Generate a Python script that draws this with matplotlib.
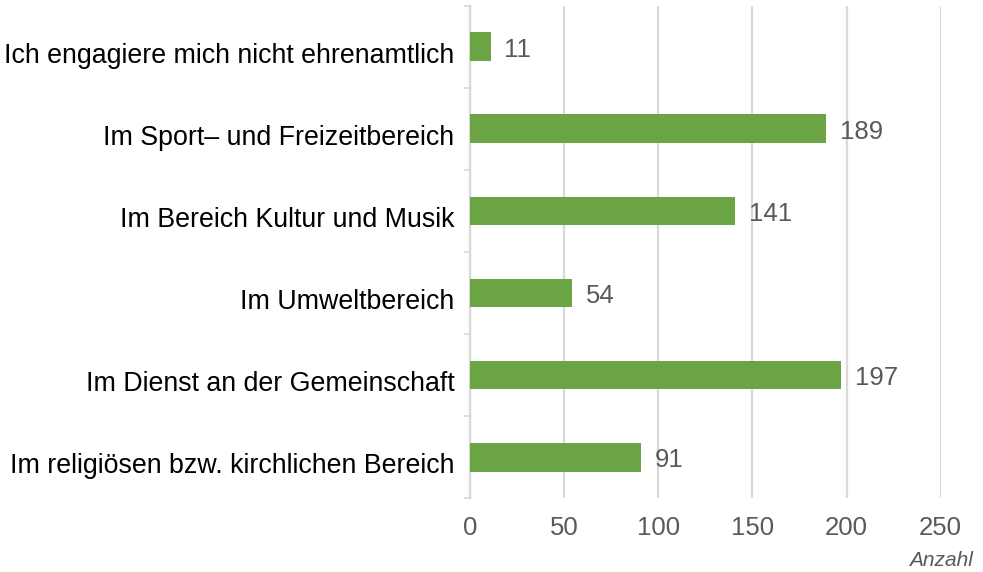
import numpy as np
import matplotlib.pyplot as plt
from matplotlib.transforms import ScaledTranslation

categories = [
    "Ich engagiere mich nicht ehrenamtlich",
    "Im Sport\u2013 und Freizeitbereich",
    "Im Bereich Kultur und Musik",
    "Im Umweltbereich",
    "Im Dienst an der Gemeinschaft",
    "Im religi\u00f6sen bzw. kirchlichen Bereich",
]
values = [11, 189, 141, 54, 197, 91]
x_ticks = [0, 50, 100, 150, 200, 250]


def main():
    plt.rcParams['font.family'] = ['Liberation Sans', 'DejaVu Sans']

    fig = plt.figure(figsize=(9.83, 5.72), dpi=100)
    ax = fig.add_axes([0.478, 0.129, 0.479, 0.861])

    y = np.arange(len(categories))
    ax.barh(y, values, height=0.35, color='#6aa444', zorder=3)
    for yi, v in zip(y, values):
        ax.annotate(str(v), (v, yi), xytext=(10, -2), textcoords='offset points',
                    va='center', ha='left', fontsize=18.5, color='#595959')

    ax.set_ylim(len(categories) - 0.5, -0.5)
    ax.set_xlim(0, 250)
    ax.set_yticks(y)
    ax.set_yticklabels(categories, fontsize=19.3, color='black')
    ax.tick_params(axis='y', length=0, pad=11)
    # labels sit a bit lower than the bar centres in the original
    shift = ScaledTranslation(0, -6 / 100, fig.dpi_scale_trans)
    for lbl in ax.get_yticklabels():
        lbl.set_transform(lbl.get_transform() + shift)
    ax.set_yticks(np.arange(-0.5, len(categories)), minor=True)
    ax.tick_params(axis='y', which='minor', length=4, width=1.2, color='#d9d9d9')

    ax.set_xticks(x_ticks)
    ax.tick_params(axis='x', length=0, labelsize=18.5, labelcolor='#595959', pad=13)
    ax.grid(axis='x', color='#d9d9d9', linewidth=1.6, zorder=0)

    for s in ['top', 'right', 'bottom']:
        ax.spines[s].set_visible(False)
    ax.spines['left'].set_color('#d9d9d9')
    ax.spines['left'].set_linewidth(1.6)

    fig.text(0.99, 0.003, "Anzahl", ha='right', va='bottom', fontsize=15,
             style='italic', color='#595959')

    fig.savefig("out.png", dpi=100)
    return 0


if __name__ == "__main__":
    exit(main())
